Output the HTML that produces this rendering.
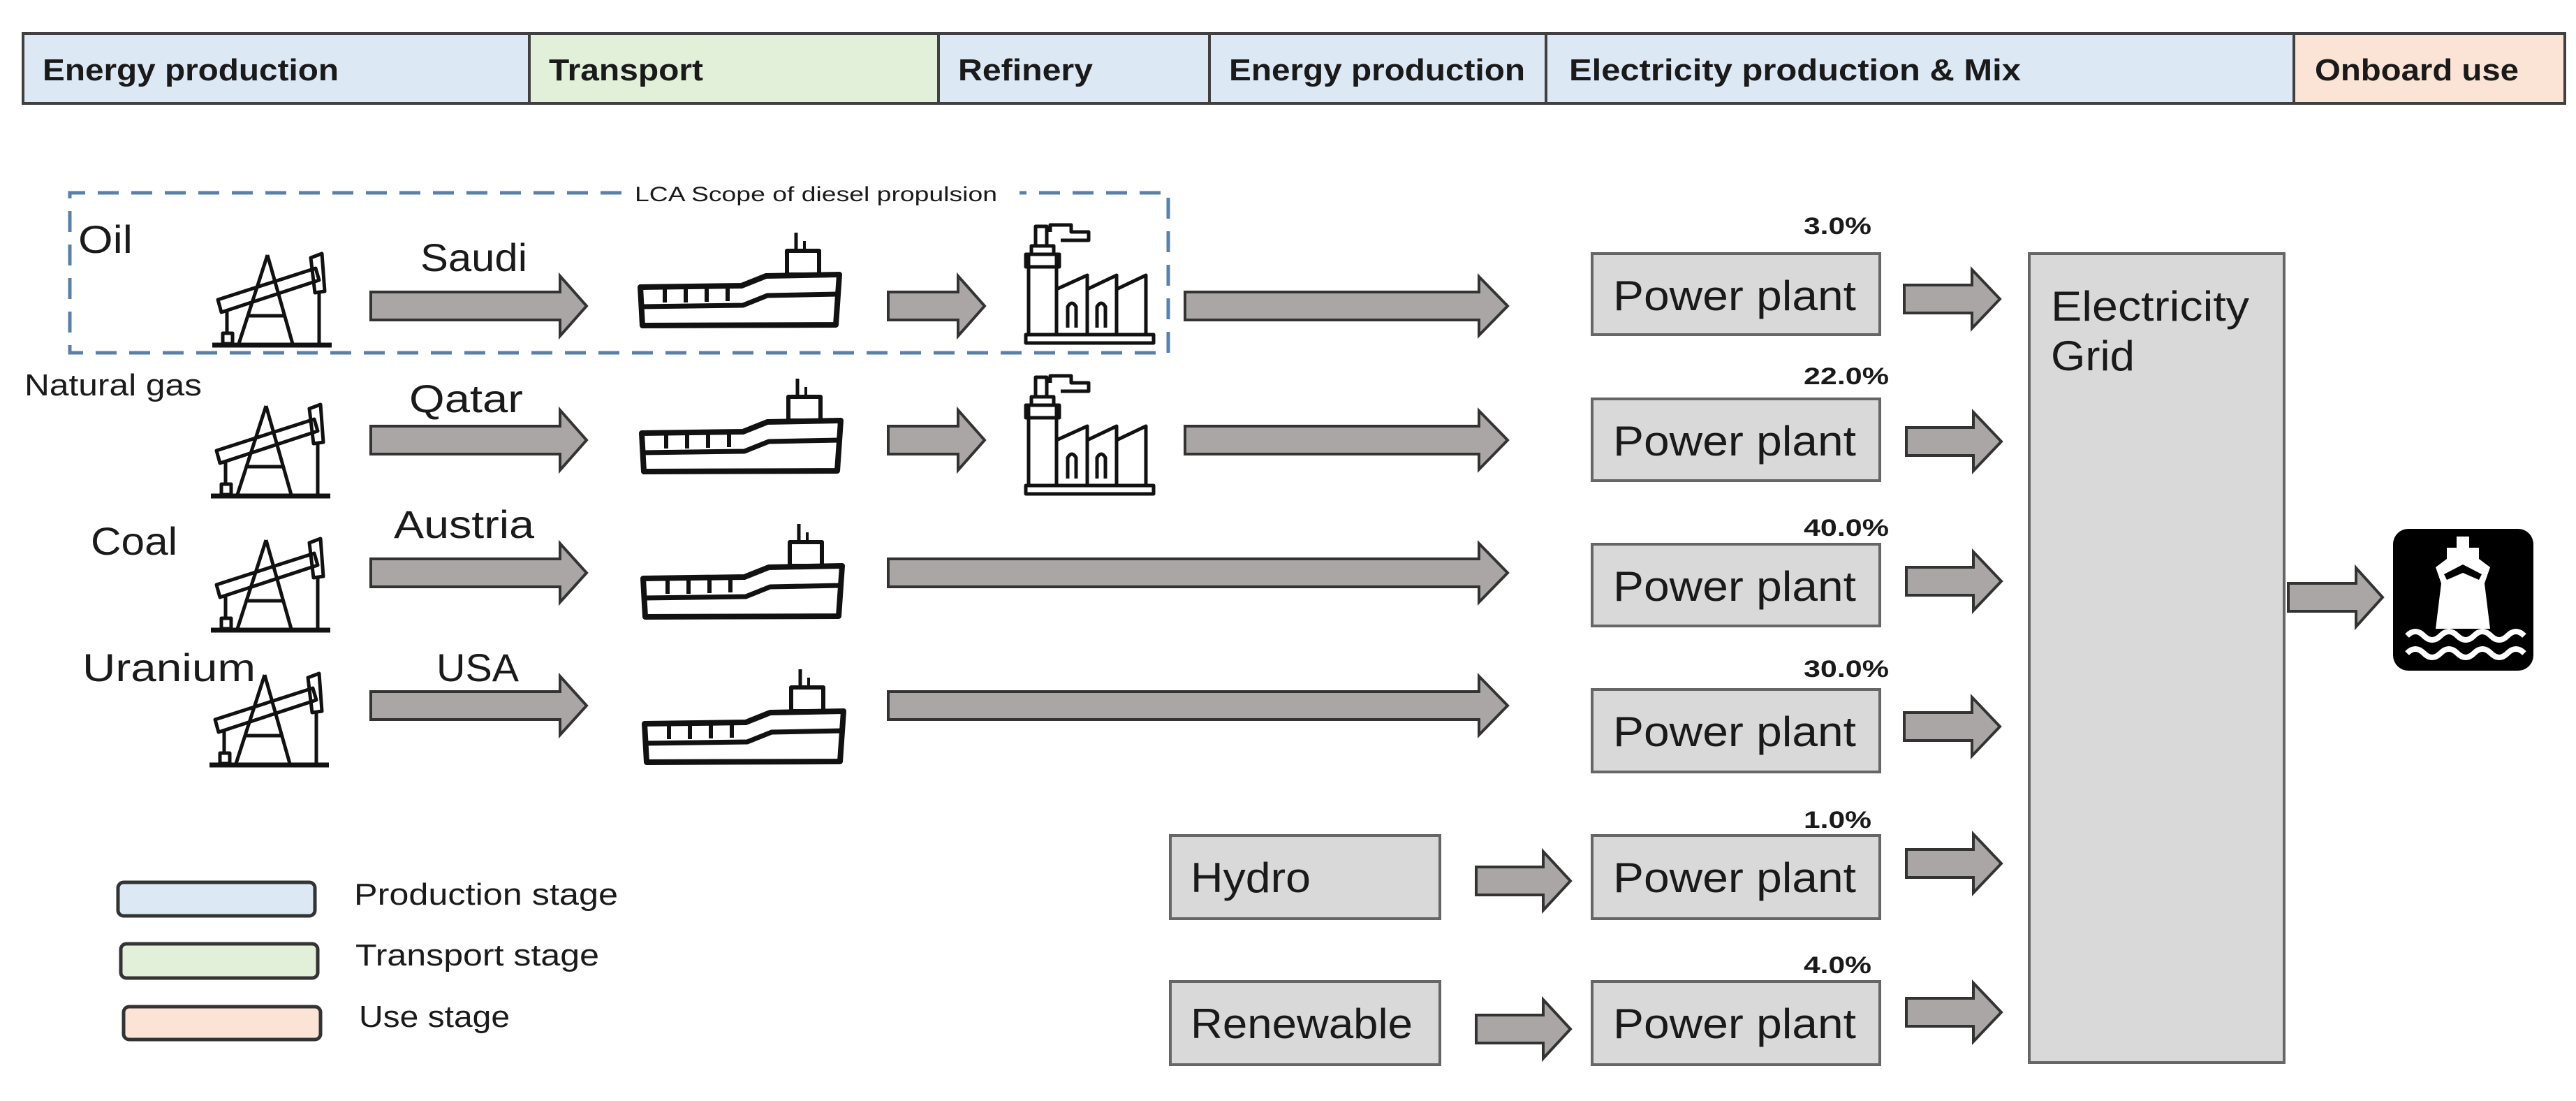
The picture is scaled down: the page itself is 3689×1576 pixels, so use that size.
<!DOCTYPE html>
<html><head><meta charset="utf-8"><style>
html,body{margin:0;padding:0;background:#fff;}
svg{display:block;}
text{font-family:"Liberation Sans",sans-serif;fill:#1a1a1a;}
</style></head><body>
<svg width="3689" height="1576" viewBox="0 0 3689 1576" xmlns="http://www.w3.org/2000/svg">
<defs>
<g id="pump" fill="none" stroke="#111" stroke-width="5" stroke-linejoin="round">
  <line x1="-3" y1="137" x2="168" y2="137" stroke-width="7"/>
  <line x1="76" y1="8" x2="35" y2="135"/>
  <line x1="76" y1="8" x2="112" y2="135"/>
  <line x1="50" y1="95" x2="100" y2="95"/>
  <polygon points="5,72 145,27 150,44 10,90"/>
  <polygon points="138,12 154,6 158,60 144,62"/>
  <line x1="150" y1="60" x2="150" y2="135"/>
  <line x1="18" y1="88" x2="18" y2="120"/>
  <rect x="12" y="120" width="14" height="15"/>
</g>
<g id="ship" fill="none" stroke="#111" stroke-width="8" stroke-linejoin="round">
  <path d="M5,78 L150,76 L185,62 L290,60 L285,132 L8,133 Z"/>
  <path d="M6,106 L152,104 L187,90 L288,88" stroke-width="7"/>
  <line x1="40" y1="80" x2="40" y2="100" stroke-width="6"/>
  <line x1="70" y1="80" x2="70" y2="100" stroke-width="6"/>
  <line x1="100" y1="79" x2="100" y2="99" stroke-width="6"/>
  <line x1="130" y1="78" x2="130" y2="98" stroke-width="6"/>
  <rect x="215" y="26" width="46" height="34" stroke-width="6"/>
  <line x1="228" y1="0" x2="228" y2="26" stroke-width="5"/>
  <line x1="240" y1="12" x2="240" y2="26" stroke-width="4"/>
</g>
<g id="ref" fill="none" stroke="#111" stroke-width="5" stroke-linejoin="round">
  <rect x="0" y="165" width="183" height="12"/>
  <rect x="4" y="50" width="40" height="115"/>
  <rect x="0" y="50" width="48" height="18"/>
  <rect x="8" y="38" width="32" height="12"/>
  <rect x="14" y="10" width="16" height="28"/>
  <path d="M35,18 L35,8 L65,8 L65,18 L90,18 L90,30 L50,30"/>
  <path d="M44,165 L44,100 L88,80 L88,165 M88,100 L130,80 L130,165 M130,100 L172,80 L172,165"/>
  <path d="M60,155 L60,125 Q66,115 72,125 L72,155 M102,155 L102,125 Q108,115 114,125 L114,155"/>
</g>
</defs>

<!-- header -->
<g stroke="#404040" stroke-width="4">
  <rect x="33" y="48" width="725" height="100" fill="#dde8f5"/>
  <rect x="758" y="48" width="586" height="100" fill="#e2efd9"/>
  <rect x="1344" y="48" width="388" height="100" fill="#dde8f5"/>
  <rect x="1732" y="48" width="482" height="100" fill="#dde8f5"/>
  <rect x="2214" y="48" width="1071" height="100" fill="#dde8f5"/>
  <rect x="3285" y="48" width="388" height="100" fill="#fbe4d5"/>
</g>
<g font-size="44" font-weight="bold">
  <text x="61" y="115" textLength="424" lengthAdjust="spacingAndGlyphs">Energy production</text>
  <text x="786" y="115" textLength="221" lengthAdjust="spacingAndGlyphs">Transport</text>
  <text x="1372" y="115" textLength="193" lengthAdjust="spacingAndGlyphs">Refinery</text>
  <text x="1760" y="115" textLength="424" lengthAdjust="spacingAndGlyphs">Energy production</text>
  <text x="2247" y="115" textLength="647" lengthAdjust="spacingAndGlyphs">Electricity production &amp; Mix</text>
  <text x="3315" y="115" textLength="292" lengthAdjust="spacingAndGlyphs">Onboard use</text>
</g>

<!-- dashed scope -->
<path d="M890,276 L100,276 L100,505 L1673,505 L1673,276 L1460,276" fill="none" stroke="#5b80a8" stroke-width="5" stroke-dasharray="30,18"/>
<text x="909" y="288" font-size="30" textLength="519" lengthAdjust="spacingAndGlyphs" fill="#333">LCA Scope of diesel propulsion</text>

<!-- labels -->
<g font-size="56">
  <text x="112" y="362" textLength="78" lengthAdjust="spacingAndGlyphs">Oil</text>
  <text x="602" y="388" textLength="153" lengthAdjust="spacingAndGlyphs">Saudi</text>
  <text x="586" y="590" textLength="163" lengthAdjust="spacingAndGlyphs">Qatar</text>
  <text x="130" y="794" textLength="124" lengthAdjust="spacingAndGlyphs">Coal</text>
  <text x="564" y="770" textLength="201" lengthAdjust="spacingAndGlyphs">Austria</text>
  <text x="118" y="975" textLength="248" lengthAdjust="spacingAndGlyphs">Uranium</text>
  <text x="625" y="975" textLength="118" lengthAdjust="spacingAndGlyphs">USA</text>
</g>
<text x="35" y="566" font-size="44" textLength="254" lengthAdjust="spacingAndGlyphs">Natural gas</text>

<!-- icons -->
<use href="#pump" x="307" y="357"/>
<use href="#pump" x="305" y="573"/>
<use href="#pump" x="305" y="765"/>
<use href="#pump" x="303" y="958"/>
<use href="#ship" x="912" y="333"/>
<use href="#ship" x="914" y="542"/>
<use href="#ship" x="916" y="750"/>
<use href="#ship" x="918" y="958"/>
<use href="#ref" x="1469" y="314"/>
<use href="#ref" x="1469" y="530"/>

<!-- arrows -->
<g fill="#aaa6a6" stroke="#333" stroke-width="4" stroke-linejoin="miter">
  <path d="M531,418 L802,418 L802,395 L840,438 L802,481 L802,458 L531,458 Z"/>
  <path d="M1272,418 L1372,418 L1372,395 L1410,438 L1372,481 L1372,458 L1272,458 Z"/>
  <path d="M1697,418 L2118,418 L2118,396 L2159,438 L2118,480 L2118,458 L1697,458 Z"/>
  <path d="M531,610 L802,610 L802,587 L840,630 L802,673 L802,650 L531,650 Z"/>
  <path d="M1272,610 L1372,610 L1372,587 L1410,630 L1372,673 L1372,650 L1272,650 Z"/>
  <path d="M1697,610 L2118,610 L2118,588 L2159,630 L2118,672 L2118,650 L1697,650 Z"/>
  <path d="M531,800 L802,800 L802,778 L840,820 L802,862 L802,840 L531,840 Z"/>
  <path d="M1272,800 L2118,800 L2118,778 L2159,820 L2118,862 L2118,840 L1272,840 Z"/>
  <path d="M531,990 L802,990 L802,968 L840,1010 L802,1052 L802,1030 L531,1030 Z"/>
  <path d="M1272,990 L2118,990 L2118,968 L2159,1010 L2118,1052 L2118,1030 L1272,1030 Z"/>
  <path d="M2727,408 L2824,408 L2824,386 L2864,428 L2824,470 L2824,448 L2727,448 Z"/>
  <path d="M2730,612 L2826,612 L2826,590 L2866,632 L2826,674 L2826,652 L2730,652 Z"/>
  <path d="M2730,812 L2826,812 L2826,790 L2866,832 L2826,874 L2826,852 L2730,852 Z"/>
  <path d="M2727,1020 L2824,1020 L2824,998 L2864,1040 L2824,1082 L2824,1060 L2727,1060 Z"/>
  <path d="M2730,1216 L2826,1216 L2826,1194 L2866,1236 L2826,1278 L2826,1256 L2730,1256 Z"/>
  <path d="M2730,1429 L2826,1429 L2826,1407 L2866,1449 L2826,1491 L2826,1469 L2730,1469 Z"/>
  <path d="M2114,1241 L2210,1241 L2210,1219 L2249,1261 L2210,1303 L2210,1281 L2114,1281 Z"/>
  <path d="M2114,1453 L2210,1453 L2210,1431 L2249,1473 L2210,1515 L2210,1493 L2114,1493 Z"/>
  <path d="M3277,835 L3374,835 L3374,813 L3412,855 L3374,897 L3374,875 L3277,875 Z"/>
</g>

<!-- boxes -->
<g fill="#d9d9d9" stroke="#666" stroke-width="4">
  <rect x="2280" y="363" width="412" height="116"/>
  <rect x="2280" y="571" width="412" height="117"/>
  <rect x="2280" y="779" width="412" height="117"/>
  <rect x="2280" y="987" width="412" height="118"/>
  <rect x="2280" y="1196" width="412" height="119"/>
  <rect x="2280" y="1405" width="412" height="119"/>
  <rect x="1676" y="1196" width="386" height="119"/>
  <rect x="1676" y="1405" width="386" height="119"/>
  <rect x="2906" y="363" width="365" height="1158"/>
</g>
<g font-size="60">
  <text x="2310" y="444" textLength="348" lengthAdjust="spacingAndGlyphs">Power plant</text>
  <text x="2310" y="652" textLength="348" lengthAdjust="spacingAndGlyphs">Power plant</text>
  <text x="2310" y="860" textLength="348" lengthAdjust="spacingAndGlyphs">Power plant</text>
  <text x="2310" y="1068" textLength="348" lengthAdjust="spacingAndGlyphs">Power plant</text>
  <text x="2310" y="1277" textLength="348" lengthAdjust="spacingAndGlyphs">Power plant</text>
  <text x="2310" y="1486" textLength="348" lengthAdjust="spacingAndGlyphs">Power plant</text>
  <text x="1705" y="1277" textLength="172" lengthAdjust="spacingAndGlyphs">Hydro</text>
  <text x="1705" y="1486" textLength="318" lengthAdjust="spacingAndGlyphs">Renewable</text>
  <text x="2937" y="459" textLength="284" lengthAdjust="spacingAndGlyphs">Electricity</text>
  <text x="2937" y="530" textLength="120" lengthAdjust="spacingAndGlyphs">Grid</text>
</g>
<g font-size="34" font-weight="bold">
  <text x="2583" y="335" textLength="97" lengthAdjust="spacingAndGlyphs">3.0%</text>
  <text x="2583" y="550" textLength="122" lengthAdjust="spacingAndGlyphs">22.0%</text>
  <text x="2583" y="767" textLength="122" lengthAdjust="spacingAndGlyphs">40.0%</text>
  <text x="2583" y="969" textLength="122" lengthAdjust="spacingAndGlyphs">30.0%</text>
  <text x="2583" y="1185" textLength="97" lengthAdjust="spacingAndGlyphs">1.0%</text>
  <text x="2583" y="1393" textLength="97" lengthAdjust="spacingAndGlyphs">4.0%</text>
</g>

<!-- onboard ship icon -->
<rect x="3427" y="757" width="201" height="203" rx="22" fill="#000"/>
<path d="M3518,768 L3536,768 L3536,784 L3550,784 L3550,800 L3566,812 L3558,835 L3566,900 L3488,900 L3496,835 L3488,812 L3504,800 L3504,784 L3518,784 Z" fill="#fff"/>
<path d="M3500,822 L3527,808 L3554,822 L3550,830 L3527,820 L3504,830 Z" fill="#000"/>
<g fill="none" stroke="#fff" stroke-width="8">
  <path d="M3447,910 q12,-12 24,0 t24,0 t24,0 t24,0 t24,0 t24,0 t24,0"/>
  <path d="M3447,935 q12,-12 24,0 t24,0 t24,0 t24,0 t24,0 t24,0 t24,0"/>
</g>

<!-- legend -->
<g stroke="#333" stroke-width="5">
  <rect x="169" y="1263" width="282" height="48" rx="8" fill="#dde8f5"/>
  <rect x="173" y="1351" width="282" height="49" rx="8" fill="#e2efd9"/>
  <rect x="177" y="1441" width="282" height="47" rx="8" fill="#fbe4d5"/>
</g>
<g font-size="44">
  <text x="507" y="1295" textLength="378" lengthAdjust="spacingAndGlyphs">Production stage</text>
  <text x="509" y="1382" textLength="349" lengthAdjust="spacingAndGlyphs">Transport stage</text>
  <text x="514" y="1470" textLength="216" lengthAdjust="spacingAndGlyphs">Use stage</text>
</g>
</svg>
</body></html>
